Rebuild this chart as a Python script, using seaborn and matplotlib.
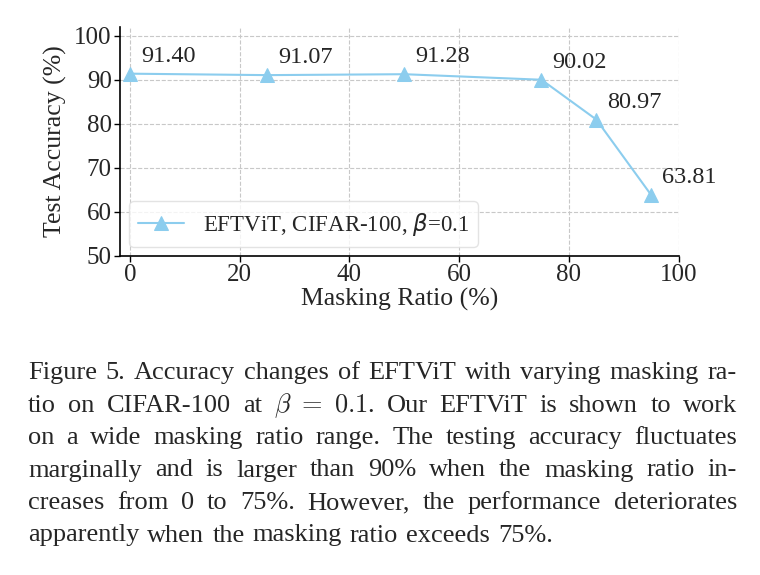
import pandas as pd
import matplotlib
matplotlib.use('Agg')
import matplotlib.pyplot as plt
import seaborn as sns

ratios = [0, 25, 50, 75, 85, 95]
accuracy = [91.40, 91.07, 91.28, 90.02, 80.97, 63.81]
series_label = r'EFTViT, CIFAR-100, $\beta$=0.1'

caption_lines = [
    "Figure 5. Accuracy changes of EFTViT with varying masking ra-",
    r"tio on CIFAR-100 at $\beta\ =\ 0.1$. Our EFTViT is shown to work",
    "on a wide masking ratio range. The testing accuracy fluctuates",
    "marginally and is larger than 90% when the masking ratio in-",
    "creases from 0 to 75%. However, the performance deteriorates",
    "apparently when the masking ratio exceeds 75%.",
]

df = pd.DataFrame({'ratio': ratios, 'acc': accuracy})

sns.set_theme(style='whitegrid')
plt.rcParams['font.family'] = ['Liberation Serif', 'DejaVu Serif']
plt.rcParams['mathtext.fontset'] = 'dejavusans'

W, H = 760, 575
fig = plt.figure(figsize=(W / 100, H / 100), dpi=100)
ax = fig.add_axes([0.158, 0.555, 0.735, 0.398])

sns.lineplot(data=df, x='ratio', y='acc', marker='^', markersize=10,
             color='#8ccdee', markeredgecolor='#8ccdee', linewidth=1.5,
             label=series_label, ax=ax)

for x, y in zip(ratios, accuracy):
    ax.annotate(f'{y:.2f}', (x, y), xytext=(8, 5), textcoords='offset points',
                fontsize=17.5, ha='left', va='bottom')

ax.set_xlim(-1.8, 100)
ax.set_ylim(50, 102)
ax.set_xticks([0, 20, 40, 60, 80, 100])
ax.set_yticks([50, 60, 70, 80, 90, 100])
ax.tick_params(labelsize=18, length=4, width=1, color='black', left=True, bottom=True, pad=2)
ax.grid(True, linestyle='--', color='#c8c8c8', linewidth=0.8)
ax.set_facecolor('white')
for side in ['top', 'right']:
    ax.spines[side].set_visible(False)
for side in ['left', 'bottom']:
    ax.spines[side].set_color('black')
    ax.spines[side].set_linewidth(1.2)
ax.set_xlabel('Masking Ratio (%)', fontsize=18.5, labelpad=1)
ax.set_ylabel('Test Accuracy (%)', fontsize=18.5, labelpad=5)
ax.legend(loc='lower left', fontsize=16.5, frameon=True, fancybox=True,
          edgecolor='#dddddd', borderaxespad=0.4)

# caption, justified word by word
renderer = fig.canvas.get_renderer()
left_px, right_px = 28, 737
y0 = 373
for i, line in enumerate(caption_lines):
    words = line.split(' ') if '$' not in line else \
        line.replace(r'\ =\ ', '~EQ~').split(' ')
    words = [w.replace('~EQ~', r'\ =\ ') for w in words]
    texts = [fig.text(0, 1 - (y0 + i * 32.5) / H, w, fontsize=19, ha='left', va='center',
                      math_fontfamily='cm') for w in words]
    widths = [t.get_window_extent(renderer).width for t in texts]
    if i < len(caption_lines) - 1:
        gap = (right_px - left_px - sum(widths)) / (len(words) - 1)
    else:
        gap = 19 * 0.25 * 100 / 72 * 1.2
    xpos = left_px
    for t, w in zip(texts, widths):
        t.set_x(xpos / W)
        xpos += w + gap

fig.savefig('out.png', dpi=100)
